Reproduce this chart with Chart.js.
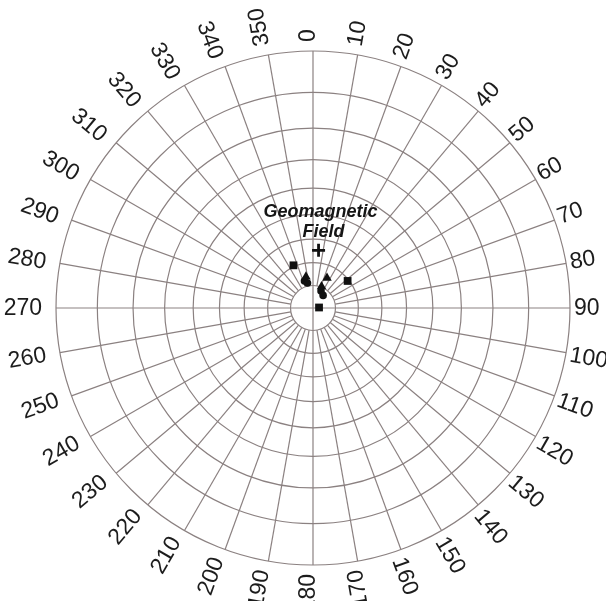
<!DOCTYPE html>
<html>
<head>
<meta charset="utf-8">
<script src="https://cdn.jsdelivr.net/npm/chart.js@4"></script>
<style>
  html, body { margin: 0; padding: 0; background: #fff; }
  #wrap { width: 606px; height: 601px; position: relative; }
</style>
</head>
<body>
<div id="wrap"><canvas id="net"></canvas></div>
<script>
// Directions (declination, inclination in degrees)
const squareDec = [335.4, 52.0, 85.2];
const squareInc = [69.3, 70.6, 87.3];
const triangleDec = [25.0, 347.3, 21.6];
const triangleInc = [75.3, 75.8, 79.7];
const circleDec = [342.5, 347.6, 25.2, 38.7];
const circleInc = [77.4, 78.6, 81.6, 82.8];
const fieldDec = [5.5];
const fieldInc = [64.6];

// Grid: inclination rings and declination spokes / labels
const incRings = [0, 10, 20, 30, 40, 50, 60, 70, 80];
const decTicks = [];
for (let d = 0; d < 360; d += 10) decTicks.push(d);
const fieldLabel = ['Geomagnetic', 'Field'];

const DEG = Math.PI / 180;
// equal-angle (Wulff) projection, lower hemisphere
const radiusOf = (inc) => Math.tan((90 - inc) / 2 * DEG);
const project = (dec, inc) => {
    const r = radiusOf(inc);
    return { x: r * Math.sin(dec * DEG), y: r * Math.cos(dec * DEG) };
};
const toPoints = (decs, incs) => decs.map((d, i) => project(d, incs[i]));

const CX = 313, CY = 308, R = 257;

const stereonetGrid = {
    id: 'stereonetGrid',
    beforeDatasetsDraw(chart) {
        const { ctx, scales: { x, y } } = chart;
        const cx = x.getPixelForValue(0), cy = y.getPixelForValue(0);
        const rx = x.getPixelForValue(1) - cx, ry = cy - y.getPixelForValue(1);
        ctx.save();
        ctx.strokeStyle = '#8b8181';
        ctx.lineWidth = 1.2;
        incRings.forEach(inc => {
            const r = radiusOf(inc);
            ctx.beginPath();
            ctx.ellipse(cx, cy, r * rx, r * ry, 0, 0, Math.PI * 2);
            ctx.stroke();
        });
        const inner = radiusOf(80);
        decTicks.forEach(d => {
            const r0 = d % 90 === 0 ? 0 : inner;
            const s = Math.sin(d * DEG), c = Math.cos(d * DEG);
            ctx.beginPath();
            ctx.moveTo(cx + r0 * rx * s, cy - r0 * ry * c);
            ctx.lineTo(cx + rx * s, cy - ry * c);
            ctx.stroke();
        });

        // declination labels, set along the spokes (ring sits a little to the left)
        ctx.fillStyle = '#1c1c1c';
        ctx.font = '23px "Liberation Sans", Arial, sans-serif';
        ctx.textAlign = 'center';
        ctx.textBaseline = 'middle';
        const lx = cx - 5, ly = cy;
        decTicks.forEach(d => {
            const txt = String(d);
            const w = ctx.measureText(txt).width;
            const dist = 1 + (9 + w / 2) / rx;
            const s = Math.sin(d * DEG), c = Math.cos(d * DEG);
            let rot = d - 90;
            while (rot >= 80) rot -= 180;
            while (rot < -100) rot += 180;
            ctx.save();
            ctx.translate(lx + dist * rx * s, ly - dist * ry * c);
            ctx.rotate(rot * DEG);
            ctx.fillText(txt, 0, 1);
            ctx.restore();
        });

        // caption over the field direction
        const f = project(fieldDec[0], fieldInc[0]);
        const fx = x.getPixelForValue(f.x), fy = y.getPixelForValue(f.y);
        ctx.font = 'italic bold 18px "Liberation Sans", Arial, sans-serif';
        ctx.fillStyle = '#151515';
        ctx.fillText(fieldLabel[0], fx + 2, fy - 38);
        ctx.fillText(fieldLabel[1], fx + 5, fy - 18);
        ctx.restore();
    }
};

new Chart(document.getElementById('net'), {
    type: 'scatter',
    data: {
        datasets: [
            { data: toPoints(squareDec, squareInc), pointStyle: 'rect', pointRadius: 5.5,
              backgroundColor: '#111', borderColor: '#111', borderWidth: 0 },
            { data: toPoints(triangleDec, triangleInc), pointStyle: 'triangle', pointRadius: 5.5,
              backgroundColor: '#111', borderColor: '#111', borderWidth: 0 },
            { data: toPoints(circleDec, circleInc), pointStyle: 'circle', pointRadius: 3.8,
              backgroundColor: '#111', borderColor: '#111', borderWidth: 0 },
            { data: toPoints(fieldDec, fieldInc), pointStyle: 'cross', pointRadius: 6.5,
              backgroundColor: '#111', borderColor: '#111', borderWidth: 2.8 }
        ]
    },
    options: {
        responsive: true,
        maintainAspectRatio: false,
        animation: false,
        layout: { padding: { left: CX - R, right: 606 - CX - R, top: CY - R, bottom: 601 - CY - R } },
        scales: {
            x: { type: 'linear', min: -1, max: 1, display: false },
            y: { type: 'linear', min: -1, max: 1, display: false }
        },
        plugins: { legend: { display: false }, tooltip: { enabled: false } },
        events: []
    },
    plugins: [stereonetGrid]
});
</script>
</body>
</html>
